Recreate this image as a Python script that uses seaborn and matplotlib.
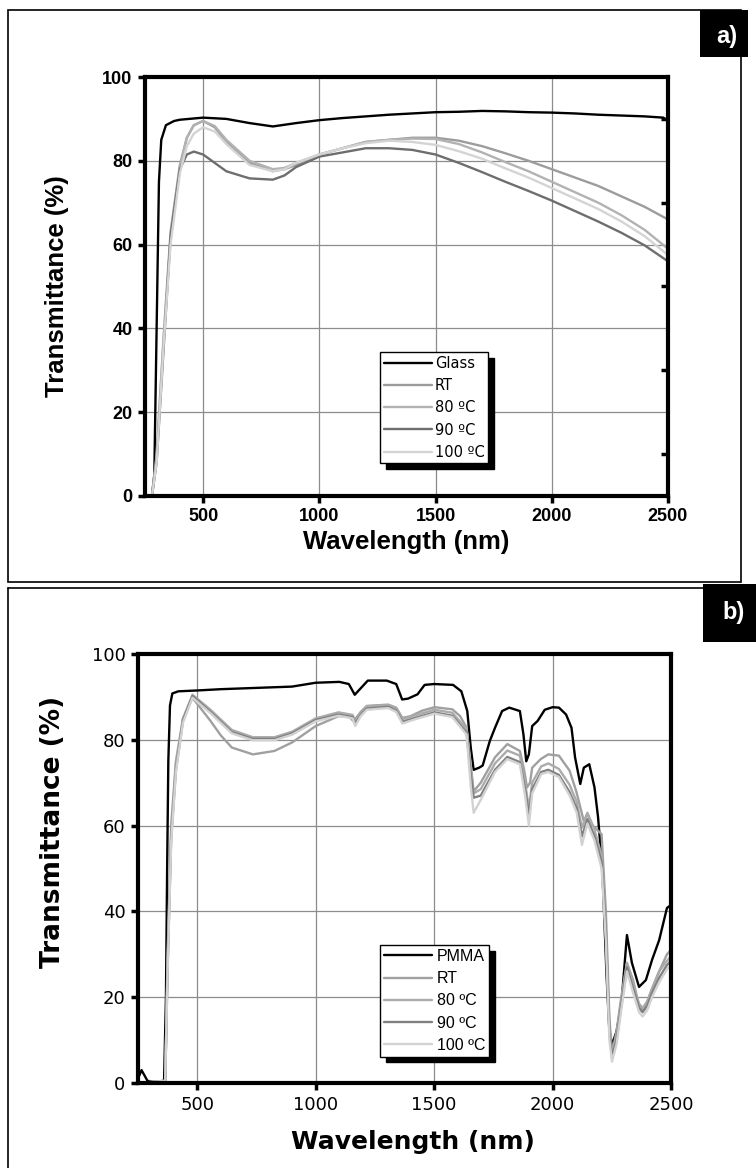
import matplotlib
matplotlib.use("Agg")
import matplotlib.pyplot as plt
import seaborn as sns
from matplotlib.lines import Line2D
from matplotlib.patches import Rectangle

# ---- panel a: glass substrate ----
wl_glass = [250, 280, 290, 300, 310, 320, 340, 375, 400, 500, 600, 700, 800, 900, 1000,
            1100, 1200, 1300, 1400, 1500, 1600, 1700, 1800, 1900, 2000, 2100, 2200, 2300,
            2400, 2480, 2500]
t_glass = [0, 0, 5, 40, 75, 85, 88.5, 89.5, 89.8, 90.3, 90, 89, 88.2, 89, 89.7,
           90.2, 90.6, 91, 91.3, 91.6, 91.7, 91.9, 91.8, 91.6, 91.5, 91.3, 91, 90.8,
           90.6, 90.3, 89.5]

wl_film_a = [280, 300, 330, 360, 400, 430, 460, 500, 550, 600, 700, 800, 850, 900, 1000,
             1100, 1200, 1300, 1400, 1500, 1600, 1700, 1800, 1900, 2000, 2100, 2200, 2300,
             2400, 2500]
t_rt_a = [0, 10, 38, 63, 79, 85.5, 88.5, 89.5, 88, 84.5, 79.5, 77.5, 78, 79, 81.5,
          83, 84.5, 85, 85.5, 85.5, 84.8, 83.5, 81.8, 80, 78, 76, 74, 71.5, 69, 66]
t_80_a = [0, 9, 37, 62, 78.5, 85.5, 88.5, 89.5, 88.3, 85, 80, 78, 78.3, 79.5, 81.5,
          83, 84.5, 85, 85.3, 85.2, 84, 82, 79.7, 77.5, 75, 72.5, 70, 67, 63.5, 59]
t_90_a = [0, 8, 35, 62, 78, 81.5, 82.2, 81.5, 79.5, 77.5, 75.8, 75.5, 76.5, 78.5, 81,
          82, 83, 83, 82.6, 81.5, 79.5, 77.3, 75, 72.8, 70.5, 68, 65.5, 62.8, 59.8, 56]
t_100_a = [0, 8, 36, 60, 77, 83.5, 86.5, 88, 87, 84, 79, 77.5, 78, 79.5, 81.5,
           83, 84.2, 84.8, 84.5, 83.8, 82.3, 80.5, 78.2, 76, 73.5, 71, 68.5, 65.5, 62, 57.5]

# ---- panel b: PMMA substrate ----
wl_pmma = [250, 265, 275, 290, 320, 360, 368, 373, 378, 385, 395, 420, 500, 600, 700,
           800, 900, 1000, 1100, 1140, 1165, 1190, 1220, 1300, 1340, 1365, 1390, 1430,
           1460, 1500, 1580, 1615, 1640, 1655, 1667, 1690, 1705, 1735, 1757, 1787, 1817,
           1862, 1877, 1889, 1900, 1914, 1937, 1967, 2000, 2027, 2057, 2080, 2095, 2117,
           2132, 2155, 2177, 2192, 2210, 2228, 2240, 2251, 2270, 2290, 2314, 2335, 2365,
           2394, 2420, 2450, 2483, 2500]
t_pmma = [1, 3, 2, 0.5, 0.3, 0.5, 20, 50, 75, 88, 90.8, 91.3, 91.5, 91.8, 92.0,
          92.2, 92.4, 93.3, 93.5, 93.0, 90.5, 92.0, 93.8, 93.8, 93.0, 89.4, 89.6, 90.6,
          92.8, 93.0, 92.8, 91.3, 86.7, 78, 73, 73.5, 74, 79.7, 82.8, 86.7, 87.5,
          86.7, 81.3, 75, 76.6, 83.2, 84.4, 87, 87.6, 87.5, 85.9, 82.8, 75.9, 69.7,
          73.5, 74.3, 68.9, 62, 50, 25, 12, 9, 12, 18, 34.5, 28, 22.4,
          24, 28.7, 33.3, 40.8, 41.5]

wl_rt_b = [250, 365, 375, 390, 410, 440, 480, 556, 600, 646, 735, 826, 901, 1000, 1096,
           1140, 1160, 1190, 1216, 1306, 1340, 1366, 1400, 1450, 1502, 1577, 1610, 1637,
           1655, 1667, 1697, 1757, 1809, 1862, 1880, 1892, 1905, 1914, 1950, 1982, 2027,
           2072, 2100, 2117, 2132, 2147, 2170, 2207, 2225, 2240, 2251, 2270, 2290, 2314,
           2340, 2365, 2380, 2400, 2420, 2450, 2483, 2500]
t_rt_b = [0, 0.5, 30, 60, 75, 85, 89.8, 84.4, 81, 78.2, 76.6, 77.4, 79.4, 83.2, 85.5,
          85.5, 84.3, 86.5, 87.9, 88.2, 87.5, 85.1, 85.5, 86.8, 87.6, 87.1, 85.5, 82.8,
          74, 68, 70, 75.9, 79, 77.4, 73, 68.9, 70, 73.5, 75.5, 76.6, 76.3,
          72.8, 68, 64.3, 61, 62.7, 60, 58, 40, 15, 7, 12, 20, 28,
          24, 18, 17, 19, 22, 26, 30, 31]

wl_film_b = [250, 365, 375, 390, 410, 440, 480, 556, 646, 735, 826, 901, 1000, 1096, 1156,
             1167, 1190, 1216, 1306, 1340, 1366, 1426, 1502, 1577, 1637, 1655, 1667, 1697,
             1757, 1809, 1862, 1884, 1900, 1914, 1952, 1982, 2027, 2072, 2102, 2124, 2147,
             2177, 2207, 2225, 2240, 2251, 2270, 2290, 2314, 2340, 2365, 2380, 2400, 2420,
             2450, 2483, 2500]
t_80_b = [0, 0.5, 28, 58, 74, 85, 90.5, 87.0, 82.3, 80.6, 80.6, 81.9, 85.0, 86.4, 85.8,
          84.3, 86.3, 87.8, 88.1, 87.3, 84.8, 85.8, 87.0, 86.3, 82.5, 73, 67.5, 68.5,
          74.5, 77.5, 76.3, 70, 64, 70, 73.8, 74.5, 73.2, 69.5, 65.5, 59.5, 63,
          59, 53, 36, 13, 7, 11, 19, 28, 23, 18.5, 17.5, 19, 22,
          26, 28.5, 29.5]
t_90_b = [0, 0.5, 27, 57, 73, 84.5, 90.2, 86.5, 81.8, 80.2, 80.2, 81.5, 84.6, 85.9, 85.3,
          83.8, 85.8, 87.3, 87.7, 86.8, 84.2, 85.2, 86.4, 85.6, 81.7, 71.5, 66.5, 67,
          73, 76, 74.8, 68.5, 62.5, 68.5, 72.5, 73, 71.8, 67.8, 64, 57.5, 61.5,
          57.5, 51.5, 35, 12, 6, 10, 18, 27, 22, 17.5, 16.5, 18, 21,
          24.5, 27.5, 28.5]
t_100_b = [0, 0.5, 26, 56, 72.5, 84, 89.8, 86.2, 81.5, 79.9, 79.9, 81.2, 84.3, 85.6, 85.0,
           83.2, 85.5, 87.0, 87.4, 86.5, 83.8, 84.9, 86.1, 85.3, 81.2, 69, 63, 66,
           72.5, 75.5, 74.3, 67, 60, 67.5, 72, 72.5, 71.3, 67, 63, 55.5, 60.5,
           56.5, 50, 33, 10, 5, 9, 17, 26, 21, 16.5, 15.5, 17, 20,
           23.5, 26.5, 27.5]

x_ticks = [500, 1000, 1500, 2000, 2500]
y_ticks = [0, 20, 40, 60, 80, 100]

sns.set_theme(style="white")
plt.rcParams["font.family"] = ["DejaVu Sans"]
plt.rcParams["text.color"] = "black"
plt.rcParams["axes.labelcolor"] = "black"

W, H = 756, 1168
LW = 1.7
fig = plt.figure(figsize=(W / 100, H / 100), dpi=100)


def box(x0, y0, x1, y1):
    # pixel box -> figure fraction rect
    return [x0 / W, 1 - y1 / H, (x1 - x0) / W, (y1 - y0) / H]


def style_axes(ax, tick_font, tick_weight):
    ax.set_xlim(250, 2500)
    ax.set_ylim(0, 100)
    ax.set_xticks(x_ticks)
    ax.set_yticks(y_ticks)
    ax.grid(True, color="#8c8c8c", lw=0.9)
    ax.set_axisbelow(True)
    for s in ax.spines.values():
        s.set_color("black")
        s.set_linewidth(3)
        s.set_visible(True)
    ax.tick_params(which="major", direction="out", length=5, width=2.5, color="black",
                   bottom=True, left=True, pad=4)
    for lab in ax.get_xticklabels() + ax.get_yticklabels():
        lab.set_fontfamily(tick_font)
        lab.set_fontweight(tick_weight)
        lab.set_fontsize(13)
        lab.set_color("black")


# ---------------- panel a ----------------
ax_a = fig.add_axes(box(145, 77, 668, 496))
sns.lineplot(x=wl_glass, y=t_glass, color="black", lw=LW, label="Glass", ax=ax_a)
sns.lineplot(x=wl_film_a, y=t_rt_a, color="#9c9c9c", lw=LW, label="RT", ax=ax_a)
sns.lineplot(x=wl_film_a, y=t_80_a, color="#b2b2b2", lw=LW, label="80 \u00baC", ax=ax_a)
sns.lineplot(x=wl_film_a, y=t_90_a, color="#6e6e6e", lw=LW, label="90 \u00baC", ax=ax_a)
sns.lineplot(x=wl_film_a, y=t_100_a, color="#d4d4d4", lw=LW, label="100 \u00baC", ax=ax_a)
style_axes(ax_a, "Liberation Sans", "bold")
ax_a.set_yticks([10, 30, 50, 70, 90], minor=True)
ax_a.tick_params(which="minor", left=False, right=True, direction="in", length=5, width=2.5,
                 color="black")
ax_a.set_xlabel("Wavelength (nm)", fontsize=18.5, fontweight="bold", family="Liberation Sans",
                color="black")
ax_a.set_ylabel("Transmittance (%)", fontsize=18.5, fontweight="bold", family="Liberation Sans",
                color="black")
ax_a.xaxis.set_label_coords(0.5, -0.08)
ax_a.yaxis.set_label_coords(-0.145, 0.5)
leg_a = ax_a.legend(loc="upper left", bbox_to_anchor=(380 / W, 1 - 352 / H),
                    bbox_transform=fig.transFigure, borderaxespad=0, fontsize=10.5,
                    handlelength=3.3, handletextpad=0.2, labelspacing=0.5, borderpad=0.25,
                    fancybox=False, framealpha=1, edgecolor="black",
                    shadow={"color": "black", "alpha": 1, "ox": 4, "oy": -4})
leg_a.get_frame().set_linewidth(1.0)

# ---------------- panel b ----------------
ax_b = fig.add_axes(box(138, 654, 671, 1083))
sns.lineplot(x=wl_pmma, y=t_pmma, color="black", lw=LW, label="PMMA", ax=ax_b)
sns.lineplot(x=wl_rt_b, y=t_rt_b, color="#a0a0a0", lw=LW, label="RT", ax=ax_b)
sns.lineplot(x=wl_film_b, y=t_80_b, color="#ababab", lw=LW, label="80 \u00baC", ax=ax_b)
sns.lineplot(x=wl_film_b, y=t_90_b, color="#808080", lw=LW, label="90 \u00baC", ax=ax_b)
sns.lineplot(x=wl_film_b, y=t_100_b, color="#d2d2d2", lw=LW, label="100 \u00baC", ax=ax_b)
style_axes(ax_b, "DejaVu Sans", "normal")
ax_b.set_xlabel("Wavelength (nm)", fontsize=18, fontweight="bold", family="DejaVu Sans",
                color="black")
ax_b.set_ylabel("Transmittance (%)", fontsize=19, fontweight="bold", family="DejaVu Sans",
                color="black")
ax_b.xaxis.set_label_coords(0.515, -0.11)
ax_b.yaxis.set_label_coords(-0.135, 0.585)
leg_b = ax_b.legend(loc="upper left", bbox_to_anchor=(380 / W, 1 - 945 / H),
                    bbox_transform=fig.transFigure, borderaxespad=0,
                    prop={"family": "Liberation Sans", "size": 11.5},
                    handlelength=3.0, handletextpad=0.3, labelspacing=0.45, borderpad=0.25,
                    fancybox=False, framealpha=1, edgecolor="black",
                    shadow={"color": "black", "alpha": 1, "ox": 4, "oy": -4})
leg_b.get_frame().set_linewidth(1.0)

# ---------------- panel frames and labels ----------------
fig.add_artist(Rectangle((8 / W, 1 - 582 / H), 733 / W, 572 / H, transform=fig.transFigure,
                         fill=False, edgecolor="black", lw=1.2))
fig.add_artist(Line2D([8 / W, 8 / W], [1 - 588 / H, 0], transform=fig.transFigure,
                      color="black", lw=1.2))
fig.add_artist(Line2D([8 / W, 1], [1 - 588 / H, 1 - 588 / H], transform=fig.transFigure,
                      color="black", lw=1.2))

fig.add_artist(Rectangle((700 / W, 1 - 57 / H), 48 / W, 47 / H, transform=fig.transFigure,
                         facecolor="black", edgecolor="none"))
fig.text(727 / W, 1 - 36 / H, "a)", color="white", fontsize=17, fontweight="bold",
         family="Liberation Sans", ha="center", va="center")
fig.add_artist(Rectangle((703 / W, 1 - 642 / H), 53 / W, 58 / H, transform=fig.transFigure,
                         facecolor="black", edgecolor="none"))
fig.text(734 / W, 1 - 613 / H, "b)", color="white", fontsize=17, fontweight="bold",
         family="Liberation Sans", ha="center", va="center")

fig.savefig("out.png", dpi=100)
